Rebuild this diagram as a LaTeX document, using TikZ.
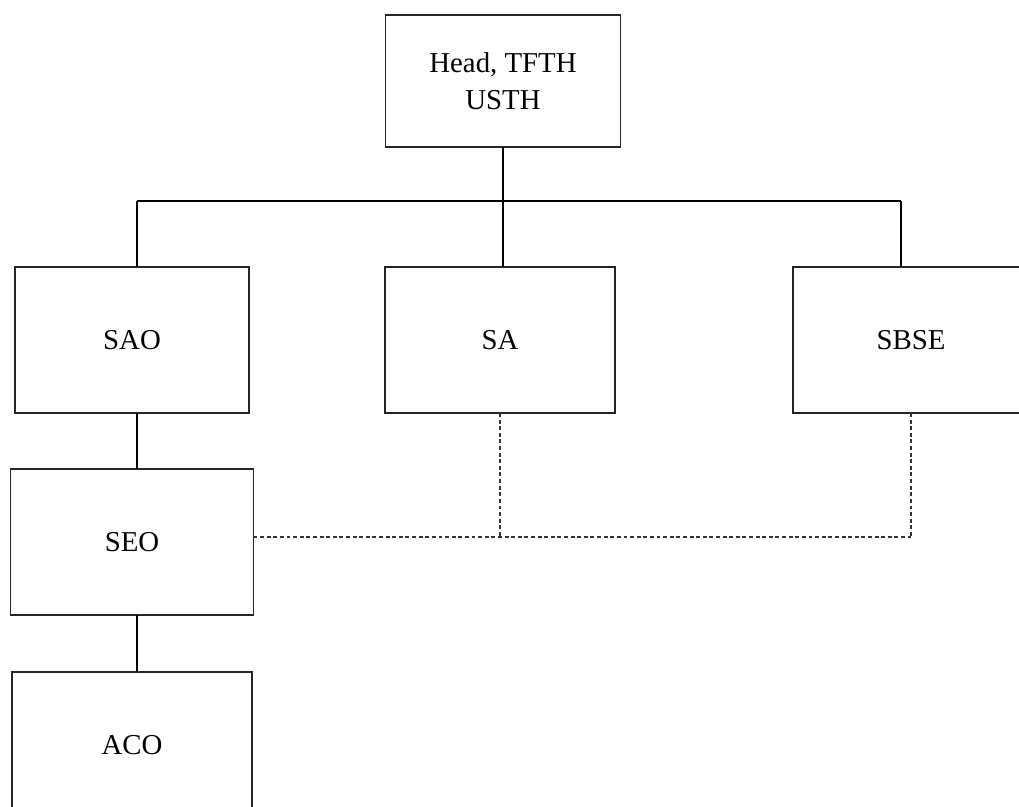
\documentclass[tikz,border=0pt]{standalone}
\usepackage{fontspec}
\setmainfont{Liberation Serif}
\usetikzlibrary{positioning}

\begin{document}
\begin{tikzpicture}
	[node distance = 1cm, auto,
	% STYLES
	% The post style is used to draw the boxes of the chart
	post/.style={rectangle, draw=black!85, line width=0.9pt, inner sep=5pt, outer sep=0pt, minimum width=5.85cm, minimum height=3.65cm, align=center, font=\fontsize{20.5}{26}\selectfont},
	% The link style is used for the solid lines between the boxes
	link/.style={draw, line width=1.3pt},
	% The report style is used for the dashed lines
	report/.style={draw=black!80, line width=0.9pt, dash pattern=on 2.8pt off 1.9pt}]

	\clip (0,0) rectangle (25.475,-20.175);
	% head on top
	\node [post, minimum width=5.875cm, minimum height=3.3cm] (Head) at (12.575,-2.025) {Head, TFTH\\USTH};
	% middle row
	\node [post, minimum width=5.75cm, below = 3cm of Head, xshift=-0.075cm] (SA) {SA};
	\node [post, left = 3.4cm of SA] (SAO) {SAO};
	\node [post, minimum width=5.9cm, right = 4.45cm of SA] (SBSE) {SBSE};
	% left column
	\node [post, minimum width=6.075cm, below = 1.4cm of SAO] (SEO) {SEO};
	\node [post, minimum width=6cm, below = 1.425cm of SEO] (ACO) {ACO};
	% ends of the line across and of the dashed line
	\coordinate (BusL) at (3.425,-5.025);
	\coordinate (BusR) at (22.525,-5.025);
	\coordinate (Dash) at ([yshift=0.125cm]SEO.east);
	% Draw the solid links
	\path[link]
	(Head.south) edge (Head.south |- SA.north)
	(BusL) edge (BusR)
	(BusL) edge (BusL |- SAO.north)
	(BusR) edge (BusR |- SBSE.north)
	(BusL |- SAO.south) edge (BusL |- SEO.north)
	(BusL |- SEO.south) edge (BusL |- ACO.north);
	%dashed lines
	\path[report]
	(SA.south) edge (SA.south |- Dash)
	(SBSE.south) edge (SBSE.south |- Dash)
	(Dash) edge (Dash -| SBSE.south);

\end{tikzpicture}
\end{document}
